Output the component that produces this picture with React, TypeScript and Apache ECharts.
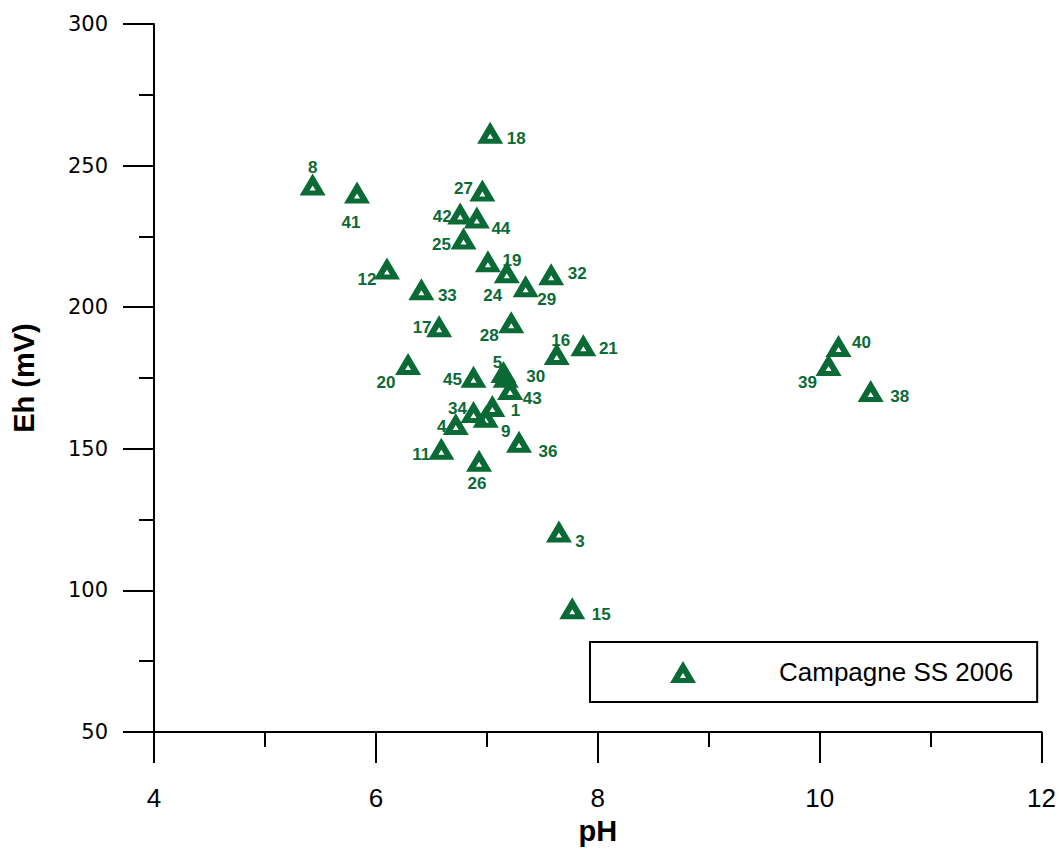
import React, { useEffect, useRef } from 'react';
import * as echarts from 'echarts';

// Sample identifiers
const sampleIds = ['1', '3', '4', '5', '8', '9', '11', '12', '15', '16', '17', '18', '19', '20', '21', '24', '25', '26', '27', '28', '29', '30', '32', '33', '34', '36', '38', '39', '40', '41', '42', '43', '44', '45'];
// pH values
const phValues = [7.05, 7.65, 6.72, 7.15, 5.43, 6.99, 6.59, 6.10, 7.77, 7.63, 6.57, 7.03, 7.01, 6.29, 7.87, 7.18, 6.79, 6.93, 6.96, 7.22, 7.35, 7.17, 7.58, 6.41, 6.88, 7.29, 10.46, 10.08, 10.17, 5.83, 6.76, 7.21, 6.91, 6.88];
// Eh values (mV)
const ehValues = [165.1, 120.8, 158.8, 177.1, 243.3, 161.3, 150.0, 213.7, 93.7, 183.5, 193.3, 261.6, 216.2, 179.9, 186.6, 212.3, 224.3, 145.8, 241.2, 194.7, 207.4, 175.4, 211.6, 206.3, 163.0, 152.5, 170.4, 179.6, 186.3, 240.5, 233.1, 171.1, 231.7, 175.4];
// label offsets relative to marker (px)
const labelOffsets = [[23, 4], [21, 10], [-14, 3], [-6, -10], [0, -17], [20, 15], [-20, 6], [-20, 11], [29, 6], [4, -13], [-17, 1], [26, 6], [24, -1], [-22, 18], [25, 3], [-14, 23], [-22, 6], [-2, 23], [-19, -2], [-22, 13], [21, 13], [30, 0], [26, -1], [26, 6], [-16, -3], [29, 10], [29, 5], [-21, 18], [23, -3], [-6, 30], [-18, 3], [22, 9], [24, 11], [-21, 3]];

const xTicks = { min: 4, max: 12, interval: 2 };
const yTicks = { min: 50, max: 300, interval: 50 };
const seriesName = 'Campagne SS 2006';

const GREEN = '#0a6a35';
const TRI = 'path://M0 22L13 0L26 22Z M13 12L10 17L16 17Z';

export default function App() {
  const ref = useRef<HTMLDivElement>(null);
  useEffect(() => {
    const chart = echarts.init(ref.current!, null, { renderer: 'svg' });
    const data = sampleIds.map((id, i) => ({
      name: id,
      value: [phValues[i], ehValues[i]],
      label: { offset: labelOffsets[i] },
    }));
    chart.setOption({
      animation: false,
      backgroundColor: '#fff',
      grid: { left: 154, right: 16, top: 24, bottom: 116, containLabel: false },
      xAxis: {
        type: 'value',
        min: xTicks.min,
        max: xTicks.max,
        interval: xTicks.interval,
        name: 'pH',
        nameLocation: 'middle',
        nameGap: 84,
        nameTextStyle: { fontSize: 29, fontWeight: 'bold', color: '#000', fontFamily: 'Liberation Sans, Arial, sans-serif' },
        axisLine: { show: true, onZero: false, lineStyle: { color: '#000', width: 2 } },
        axisTick: { show: true, length: 31, lineStyle: { color: '#000', width: 2 } },
        minorTick: { show: true, splitNumber: 2, length: 15, lineStyle: { color: '#000', width: 2 } },
        axisLabel: { margin: 53, fontSize: 26, color: '#000', fontFamily: 'Liberation Sans, Arial, sans-serif' },
        splitLine: { show: false },
      },
      yAxis: {
        type: 'value',
        min: yTicks.min,
        max: yTicks.max,
        interval: yTicks.interval,
        name: 'Eh (mV)',
        nameLocation: 'middle',
        nameGap: 116,
        nameTextStyle: { fontSize: 29, fontWeight: 'bold', color: '#000', fontFamily: 'Liberation Sans, Arial, sans-serif' },
        axisLine: { show: true, onZero: false, lineStyle: { color: '#000', width: 2 } },
        axisTick: { show: true, length: 31, lineStyle: { color: '#000', width: 2 } },
        minorTick: { show: true, splitNumber: 2, length: 15, lineStyle: { color: '#000', width: 2 } },
        axisLabel: { margin: 46, fontSize: 21, color: '#000', fontFamily: 'DejaVu Sans, sans-serif' },
        splitLine: { show: false },
      },
      legend: {
        data: [seriesName],
        left: 590,
        top: 642,
        orient: 'horizontal',
        padding: [17, 24, 17, 80],
        borderColor: '#000',
        borderWidth: 2,
        borderRadius: 0,
        backgroundColor: '#fff',
        itemWidth: 26,
        itemHeight: 22,
        icon: TRI,
        textStyle: {
          fontSize: 26,
          lineHeight: 26,
          color: '#000',
          fontFamily: 'Liberation Sans, Arial, sans-serif',
          padding: [0, 0, 0, 78],
        },
      },
      series: [
        {
          name: seriesName,
          type: 'scatter',
          symbol: TRI,
          symbolSize: [26, 22],
          itemStyle: { color: GREEN, opacity: 1 },
          label: {
            show: true,
            position: 'inside',
            formatter: '{b}',
            color: GREEN,
            fontSize: 17,
            fontWeight: 'bold',
            fontFamily: 'Liberation Sans, Arial, sans-serif',
            align: 'center',
            verticalAlign: 'middle',
          },
          data,
        },
      ],
    });
    return () => chart.dispose();
  }, []);
  return (
    <div
      ref={ref}
      style={{ position: 'absolute', left: 0, top: 0, width: 1059, height: 850, background: '#fff' }}
    />
  );
}
